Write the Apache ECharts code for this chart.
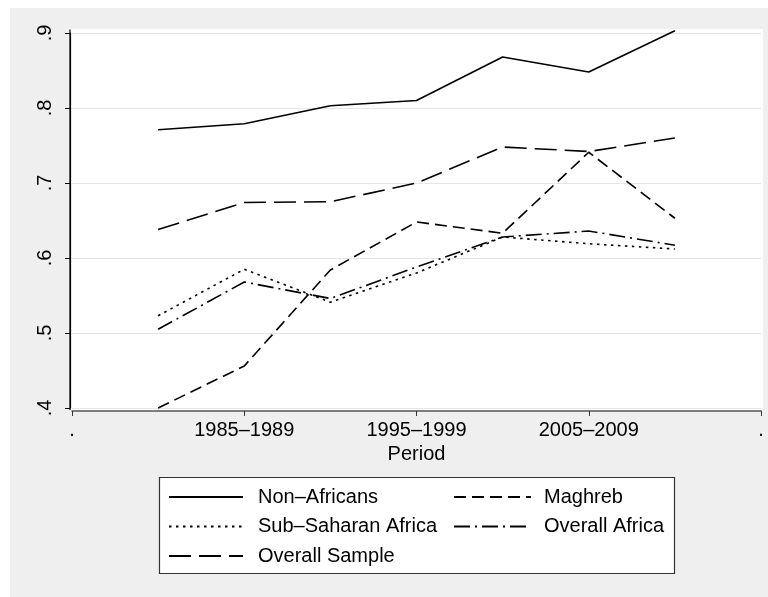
<!DOCTYPE html>
<html>
<head>
<meta charset="utf-8">
<script src="https://cdn.jsdelivr.net/npm/echarts@6/dist/echarts.min.js"></script>
<style>html,body{margin:0;padding:0;background:#fff}#c{width:768px;height:597px}</style>
</head>
<body>
<div id="c"></div>
<script>
// Periods (1 = 1980–1984 ... 7 = 2010–2014)
const periodIndex = [1, 2, 3, 4, 5, 6, 7];
const xTickValues = [0, 2, 4, 6, 8];
const xTickLabels = ['.', '1985\u20131989', '1995\u20131999', '2005\u20132009', '.'];
const yTickLabels = ['.4', '.5', '.6', '.7', '.8', '.9'];

const nonAfricans    = [0.771, 0.779, 0.803, 0.810, 0.868, 0.848, 0.903];
const maghreb        = [0.400, 0.456, 0.584, 0.648, 0.633, 0.741, 0.653];
const subSaharan     = [0.523, 0.585, 0.541, 0.580, 0.628, 0.619, 0.612];
const overallAfrica  = [0.505, 0.568, 0.546, 0.588, 0.628, 0.636, 0.617];
const overallSample  = [0.638, 0.674, 0.675, 0.700, 0.748, 0.742, 0.760];

const FONT = 'Liberation Sans, Arial, sans-serif';
const pairs = arr => periodIndex.map((x, i) => [x, arr[i]]);

function mk(name, arr, type) {
  return {
    name: name, type: 'line', data: pairs(arr), symbol: 'none', animation: false, clip: false,
    lineStyle: { color: '#000', width: 1.6, type: type },
    itemStyle: { color: '#000' }
  };
}

const legendCommon = {
  orient: 'vertical', top: 487, padding: 0, itemGap: 9.5, itemHeight: 20,
  itemStyle: { opacity: 0, borderWidth: 0 }
};

const chart = echarts.init(document.getElementById('c'), null, { renderer: 'canvas' });
chart.setOption({
  backgroundColor: '#ffffff',
  animation: false,
  textStyle: { fontFamily: FONT },
  graphic: [
    { type: 'rect', z: -10, silent: true, shape: { x: 10, y: 8, width: 758, height: 589 }, style: { fill: '#efefef' } },
    { type: 'rect', z: -9, silent: true, shape: { x: 70, y: 29, width: 693, height: 382 }, style: { fill: '#ffffff' } },
    { type: 'line', z: 5, silent: true, shape: { x1: 70, y1: 29.5, x2: 70, y2: 410 }, style: { stroke: '#000', lineWidth: 1.2 } },
    { type: 'rect', z: 0, silent: true, shape: { x: 159.5, y: 477.5, width: 515, height: 96 }, style: { fill: '#ffffff', stroke: '#333', lineWidth: 1.2 } }
  ],
  grid: { left: 72, right: 7, top: 33, bottom: 189, containLabel: false },
  xAxis: {
    type: 'value', min: 0, max: 8, interval: 2, offset: 3,
    name: 'Period', nameLocation: 'middle', nameGap: 31,
    nameTextStyle: { fontSize: 20, color: '#000', fontFamily: FONT },
    axisLine: { show: true, onZero: false, lineStyle: { color: '#555', width: 1.6 } },
    axisTick: { show: true, inside: false, length: 5, lineStyle: { color: '#333', width: 1 } },
    axisLabel: {
      fontSize: 20, color: '#000', margin: 9, fontFamily: FONT,
      formatter: v => { const i = xTickValues.indexOf(v); return i >= 0 ? xTickLabels[i] : ''; }
    },
    splitLine: { show: false }
  },
  yAxis: {
    type: 'value', min: 0.4, max: 0.9, interval: 0.1, offset: 2,
    axisLine: { show: true, onZero: false, lineStyle: { color: '#000', width: 1.2 } },
    axisTick: { show: true, length: 5, lineStyle: { color: '#000', width: 1 } },
    axisLabel: {
      rotate: 90, fontSize: 20, color: '#000', margin: 15, fontFamily: FONT,
      formatter: v => yTickLabels[Math.round((v - 0.4) * 10)]
    },
    splitLine: { show: true, lineStyle: { color: '#e6e6e6', width: 1.2 } }
  },
  legend: [
    Object.assign({}, legendCommon, {
      left: 168, itemWidth: 74,
      data: ['Non\u2013Africans', 'Sub\u2013Saharan Africa', 'Overall Sample'],
      textStyle: { fontSize: 20, color: '#000', fontFamily: FONT, padding: [0, 0, 0, 10] }
    }),
    Object.assign({}, legendCommon, {
      left: 453, itemWidth: 77,
      data: ['Maghreb', 'Overall Africa'],
      textStyle: { fontSize: 20, color: '#000', fontFamily: FONT, padding: [0, 0, 0, 8] }
    })
  ],
  series: [
    mk('Non\u2013Africans', nonAfricans, 'solid'),
    mk('Maghreb', maghreb, [12, 6]),
    mk('Sub\u2013Saharan Africa', subSaharan, [2.5, 4.5]),
    mk('Overall Africa', overallAfrica, [16, 5, 2, 5]),
    mk('Overall Sample', overallSample, [22, 8])
  ]
});
</script>
</body>
</html>
